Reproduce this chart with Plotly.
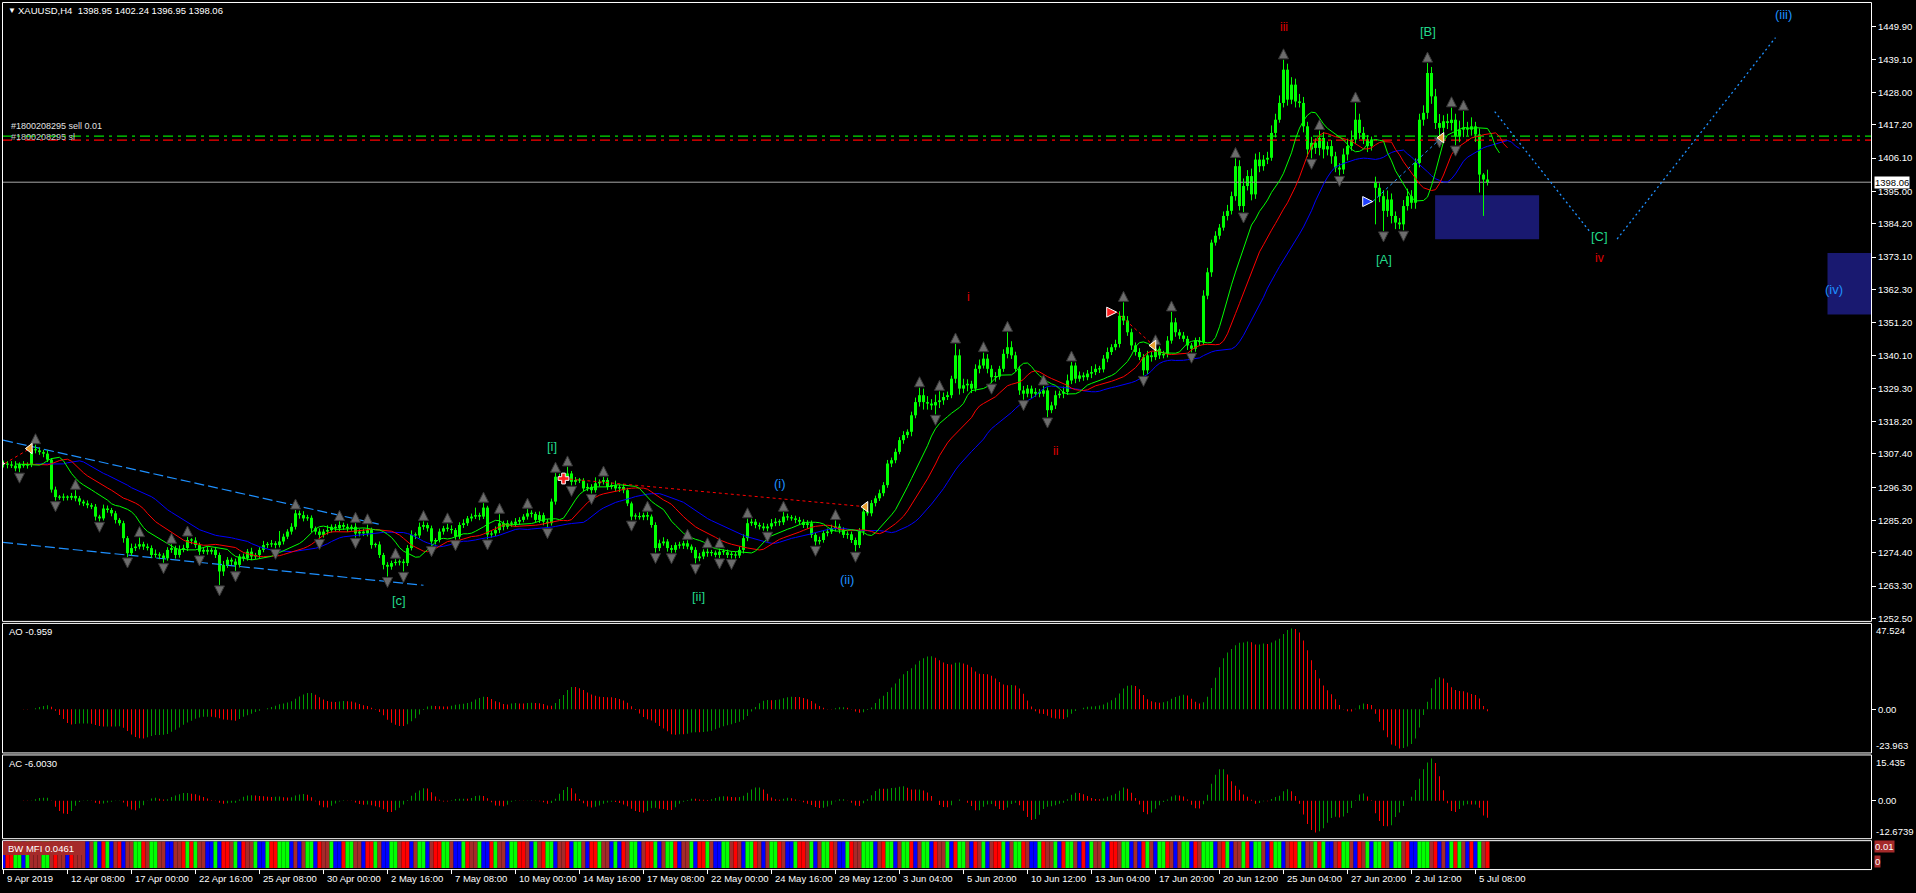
import pandas as pd
import plotly.graph_objects as go

W, H = 1916, 893

# ---------------- data ----------------
close = [
    1304.2, 1303.8, 1303.5, 1302.6, 1304.0, 1303.5, 1303.8, 1309.0, 1308.6, 1308.0,
    1307.5, 1305.5, 1295.5, 1293.0, 1292.8, 1293.0, 1292.8, 1293.4, 1292.6, 1291.5,
    1290.9, 1290.3, 1289.8, 1286.5, 1285.9, 1289.2, 1288.7, 1287.6, 1285.4, 1284.3,
    1279.3, 1274.3, 1276.0, 1276.5, 1277.3, 1276.5, 1276.0, 1273.7, 1273.9, 1273.5,
    1272.6, 1275.4, 1276.0, 1273.7, 1275.4, 1276.0, 1278.7, 1278.5, 1277.0, 1274.8,
    1275.4, 1274.8, 1275.4, 1273.7, 1268.2, 1270.4, 1272.1, 1271.5, 1270.4, 1273.2,
    1272.6, 1274.8, 1273.2, 1273.7, 1275.4, 1277.0, 1277.2, 1277.6, 1277.0, 1278.2,
    1279.8, 1281.5, 1283.1, 1287.6, 1287.0, 1285.9, 1286.1, 1282.6, 1281.5, 1280.4,
    1281.5, 1282.0, 1283.1, 1282.6, 1283.7, 1283.1, 1282.6, 1283.1, 1280.9, 1281.5,
    1280.9, 1282.0, 1277.0, 1277.2, 1273.7, 1270.4, 1269.8, 1271.0, 1271.2, 1271.5,
    1271.0, 1276.0, 1280.4, 1280.2, 1283.1, 1283.7, 1282.6, 1278.2, 1278.7, 1281.5,
    1282.6, 1282.4, 1282.0, 1279.8, 1283.7, 1284.3, 1285.9, 1286.5, 1287.0, 1286.5,
    1289.5, 1280.5, 1280.9, 1282.0, 1284.3, 1283.1, 1284.3, 1284.1, 1284.8, 1285.4,
    1286.5, 1287.6, 1287.4, 1285.4, 1287.0, 1284.8, 1284.3, 1291.5, 1299.8, 1299.2,
    1299.8, 1300.9, 1298.1, 1298.7, 1298.5, 1295.9, 1296.4, 1295.3, 1297.6, 1298.1,
    1298.7, 1296.4, 1297.0, 1295.9, 1296.4, 1295.3, 1290.9, 1286.5, 1286.7, 1286.3,
    1287.0, 1286.5, 1283.7, 1276.0, 1277.6, 1278.2, 1276.0, 1275.4, 1277.0, 1276.8,
    1277.6, 1276.5, 1275.4, 1272.6, 1273.2, 1274.8, 1274.3, 1274.5, 1273.7, 1274.8,
    1274.6, 1273.7, 1273.9, 1273.5, 1275.4, 1279.3, 1284.3, 1284.8, 1283.7, 1283.2,
    1282.6, 1283.2, 1284.3, 1284.8, 1284.6, 1286.5, 1286.2, 1285.9, 1285.4, 1284.8,
    1283.7, 1284.3, 1280.4, 1278.2, 1278.7, 1281.0, 1281.5, 1282.6, 1283.2, 1282.1,
    1280.4, 1280.6, 1278.7, 1277.0, 1281.5, 1288.2, 1287.6, 1291.0, 1292.6, 1294.3,
    1297.0, 1304.2, 1305.3, 1308.1, 1312.0, 1313.7, 1314.8, 1320.3, 1324.7, 1327.0,
    1324.7, 1324.2, 1323.6, 1324.7, 1325.3, 1326.4, 1327.0, 1332.5, 1340.3, 1329.2,
    1330.3, 1330.8, 1329.2, 1335.8, 1336.9, 1339.2, 1335.8, 1333.0, 1333.2, 1335.8,
    1340.8, 1343.0, 1340.3, 1335.8, 1328.6, 1327.5, 1329.2, 1327.5, 1328.1, 1327.5,
    1328.6, 1322.0, 1323.6, 1327.0, 1327.5, 1328.1, 1331.9, 1336.9, 1332.5, 1333.6,
    1333.0, 1334.2, 1334.7, 1335.8, 1335.6, 1339.2, 1341.4, 1343.0, 1344.1, 1353.5,
    1351.9, 1348.0, 1343.6, 1341.4, 1339.7, 1335.3, 1340.3, 1339.7, 1342.5, 1340.3,
    1340.8, 1345.2, 1351.3, 1348.0, 1346.9, 1345.8, 1343.6, 1342.5, 1345.2, 1344.7,
    1360.2, 1368.0, 1377.9, 1380.2, 1382.9, 1386.8, 1388.5, 1393.4, 1403.4, 1390.1,
    1396.8, 1400.1, 1394.0, 1405.6, 1403.4, 1405.6, 1406.2, 1414.5, 1418.9, 1424.5,
    1435.6, 1425.6, 1430.6, 1425.0, 1424.5, 1416.7, 1409.0, 1411.2, 1409.5, 1412.8,
    1409.0, 1410.1, 1406.7, 1402.9, 1402.3, 1407.3, 1410.1, 1412.3, 1418.9, 1414.5,
    1412.3, 1410.1, 1412.3, 1396.2, 1393.4, 1388.5, 1392.3, 1386.8, 1384.6, 1384.0,
    1390.1, 1393.4, 1391.2, 1404.5, 1418.9, 1421.2, 1434.5, 1426.7, 1417.8, 1416.2,
    1418.4, 1417.8, 1418.9, 1413.4, 1415.6, 1416.2, 1415.6, 1416.7, 1414.0, 1400.6,
    1398.95, 1398.06,
]
open_override = {0: 1303.9, 343: 1397.9, 371: 1398.95}

wick_up = [
    1.0, 0.8, 1.2, 1.5, 0.6, 1.0, 0.8, 1.3, 1.5, 1.0,
    0.8, 1.2, 0.5, 1.0, 0.7, 1.2, 0.6, 1.0, 1.9, 0.8,
    0.6, 1.0, 0.7, 0.9, 0.6, 1.3, 1.0, 0.7, 0.8, 0.6,
    0.8, 0.7, 1.5, 1.0, 2.2, 0.8, 1.0, 0.9, 1.6, 0.7,
    0.8, 0.9, 1.3, 0.8, 1.5, 1.1, 1.0, 0.6, 1.1, 0.8,
    0.9, 1.2, 0.7, 1.0, 0.8, 1.3, 0.9, 0.7, 1.0, 0.8,
    1.0, 0.9, 1.3, 0.7, 0.9, 1.4, 0.8, 1.1, 0.7, 3.5,
    1.0, 0.8, 1.2, 1.1, 0.9, 1.3, 1.0, 0.8, 0.6, 1.1,
    0.8, 1.6, 0.8, 0.9, 1.2, 0.8, 1.0, 0.7, 1.2, 0.8,
    1.0, 1.8, 0.8, 0.6, 1.0, 0.7, 0.9, 0.8, 1.1, 0.7,
    0.8, 1.0, 1.5, 0.8, 1.4, 1.2, 0.8, 0.9, 0.6, 1.0,
    0.8, 1.5, 1.2, 0.7, 0.9, 1.3, 0.8, 1.0, 2.5, 0.8,
    1.5, 0.6, 0.9, 1.2, 3.0, 0.8, 1.0, 0.8, 1.2, 0.9,
    0.8, 1.4, 1.0, 0.7, 1.2, 0.8, 0.9, 1.0, 1.2, 1.0,
    1.0, 2.2, 0.8, 1.0, 0.7, 0.8, 1.2, 0.9, 2.0, 0.8,
    1.0, 0.8, 0.9, 1.5, 0.7, 1.0, 0.8, 0.6, 0.9, 1.2,
    0.8, 1.0, 0.7, 0.9, 1.2, 1.4, 0.8, 1.0, 0.9, 1.1,
    0.8, 1.0, 0.7, 0.9, 1.2, 0.8, 1.0, 0.9, 0.7, 1.0,
    0.8, 0.9, 1.0, 0.8, 1.1, 1.3, 1.5, 1.0, 0.9, 0.8,
    1.2, 0.9, 1.4, 1.2, 0.8, 1.5, 1.0, 0.8, 0.9, 1.0,
    0.8, 1.0, 0.9, 0.7, 1.1, 0.8, 1.0, 1.2, 2.0, 0.9,
    0.8, 1.0, 0.9, 0.8, 1.2, 1.0, 1.5, 1.0, 0.9, 1.2,
    1.0, 1.2, 0.9, 1.1, 1.0, 1.3, 0.8, 1.2, 1.5, 2.5,
    2.2, 2.0, 1.5, 2.5, 3.0, 1.5, 1.2, 1.0, 3.8, 2.0,
    2.2, 1.5, 1.0, 1.5, 2.0, 2.0, 1.5, 1.2, 1.5, 1.0,
    1.5, 5.0, 2.0, 1.2, 1.0, 1.5, 1.2, 1.0, 1.3, 1.0,
    1.5, 1.0, 1.2, 1.5, 1.0, 1.8, 2.0, 1.2, 1.0, 1.3,
    1.0, 1.2, 2.0, 1.5, 1.0, 1.2, 1.5, 1.0, 1.4, 1.5,
    4.5, 1.5, 1.2, 1.0, 1.3, 1.0, 1.5, 1.2, 1.0, 0.8,
    1.0, 1.5, 3.5, 1.5, 1.0, 1.2, 1.0, 0.8, 1.0, 1.2,
    1.8, 1.5, 1.0, 1.5, 1.2, 1.5, 2.0, 1.5, 2.6, 2.0,
    2.5, 2.0, 2.5, 2.0, 2.5, 1.5, 2.0, 2.5, 2.0, 2.5,
    3.3, 2.0, 2.5, 2.0, 2.5, 2.0, 1.5, 2.0, 1.5, 2.5,
    2.0, 1.5, 2.0, 1.5, 1.5, 2.0, 2.5, 3.0, 5.6, 2.0,
    2.0, 1.5, 1.0, 2.0, 1.5, 2.0, 3.0, 2.0, 1.5, 1.5,
    2.0, 2.5, 2.0, 1.5, 2.0, 2.5, 3.3, 2.0, 2.5, 3.0,
    2.0, 2.5, 4.0, 2.0, 3.0, 5.6, 2.0, 3.0, 1.5, 2.0,
    0.5, 3.29,
]
wick_dn = [
    1.0, 1.2, 0.8, 1.0, 1.3, 0.7, 1.0, 0.8, 1.0, 0.9,
    1.2, 0.8, 1.0, 1.2, 0.7, 1.0, 0.9, 0.8, 1.0, 1.2,
    0.9, 1.0, 0.8, 1.3, 1.0, 0.7, 0.9, 1.0, 1.2, 0.8,
    1.5, 1.3, 0.8, 1.0, 0.9, 1.1, 0.8, 1.0, 0.9, 1.2,
    1.5, 0.8, 1.0, 1.2, 0.9, 0.8, 1.0, 1.2, 0.9, 1.1,
    0.8, 1.0, 0.9, 1.0, 4.5, 1.5, 1.0, 1.2, 2.0, 0.9,
    1.0, 0.8, 1.2, 0.9, 1.0, 0.8, 1.0, 0.9, 1.1, 0.8,
    1.0, 0.8, 1.0, 0.9, 1.2, 1.0, 0.8, 1.3, 1.0, 1.2,
    0.9, 1.0, 0.8, 1.1, 0.9, 1.0, 1.2, 0.8, 1.4, 1.0,
    0.9, 1.0, 1.2, 0.8, 1.0, 1.5, 3.3, 1.0, 0.8, 1.0,
    2.8, 1.0, 0.8, 1.2, 0.9, 1.0, 1.1, 1.4, 1.0, 0.8,
    1.0, 0.9, 1.2, 1.0, 0.8, 1.0, 0.9, 1.0, 0.8, 1.2,
    0.8, 1.5, 1.0, 0.9, 1.0, 1.2, 0.8, 1.0, 0.9, 1.0,
    0.8, 1.0, 1.2, 0.9, 1.0, 1.2, 1.5, 0.8, 1.0, 0.8,
    1.0, 0.9, 1.2, 1.0, 0.8, 1.0, 0.9, 1.1, 0.8, 1.0,
    0.9, 1.0, 0.8, 1.0, 1.2, 1.0, 0.9, 1.2, 1.0, 0.8,
    1.0, 1.2, 0.9, 1.5, 1.0, 0.8, 1.2, 1.0, 0.9, 1.0,
    1.1, 0.9, 1.0, 1.7, 1.0, 0.9, 1.2, 1.0, 0.8, 1.0,
    0.9, 1.0, 1.2, 1.0, 0.8, 1.2, 1.0, 0.9, 1.1, 1.0,
    0.8, 1.0, 0.9, 1.0, 1.2, 0.9, 1.0, 0.8, 1.1, 0.9,
    1.0, 1.2, 1.0, 1.3, 1.0, 0.9, 1.1, 0.8, 1.0, 1.2,
    1.0, 1.3, 1.0, 2.1, 1.0, 1.2, 0.8, 1.0, 1.1, 0.9,
    1.0, 0.9, 1.2, 1.0, 0.8, 1.2, 1.0, 1.5, 1.0, 1.5,
    2.5, 2.0, 1.5, 3.0, 2.0, 1.5, 1.0, 1.0, 1.5, 2.0,
    1.5, 2.0, 1.5, 1.0, 1.5, 1.0, 1.5, 2.0, 1.5, 1.0,
    1.0, 1.5, 1.2, 1.0, 1.5, 2.0, 1.2, 1.5, 1.0, 1.2,
    1.0, 2.3, 1.0, 1.2, 1.0, 1.5, 1.0, 1.2, 1.5, 1.0,
    1.2, 1.0, 1.5, 1.0, 1.2, 1.0, 1.2, 1.0, 1.0, 1.2,
    1.5, 1.2, 1.5, 1.2, 1.0, 1.7, 1.2, 1.5, 1.0, 1.2,
    1.0, 1.2, 1.0, 1.5, 1.2, 1.0, 1.5, 1.2, 1.0, 1.2,
    1.0, 1.2, 1.5, 1.0, 1.2, 1.0, 1.5, 1.2, 1.5, 1.5,
    2.0, 1.5, 2.0, 1.5, 2.0, 1.5, 1.5, 1.0, 1.5, 1.0,
    1.5, 2.0, 1.5, 2.0, 1.5, 2.0, 2.5, 3.0, 2.0, 2.5,
    3.0, 2.0, 2.5, 1.5, 2.0, 1.5, 2.0, 1.5, 1.5, 2.0,
    1.5, 2.0, 1.5, 12.2, 2.0, 6.7, 2.0, 2.5, 2.2, 1.6,
    2.0, 1.5, 2.0, 2.0, 1.5, 2.0, 2.0, 2.5, 2.0, 3.0,
    2.5, 2.0, 2.5, 3.0, 2.0, 2.5, 2.0, 2.0, 2.5, 6.0,
    12.15, 1.11,
]

# BW MFI bar colours (L lime, B blue, R red, N brown)
mfi_codes = (
    "BRRLLBLNNN" "LLNRNNBRNN" "NBNLBRLBNR" "BNNLLRNLLN" "NBBNNRLRLN" "NBBLBRRNLB" "RNNLBBLRRL" "LLBNB"
    "NLLBRNNLBB" "RLLNNBRRLN" "BBLLNRRBNL" "LBNRRLLNBB" "LRNNLBBRLN" "NBLLRRNBLN" "RLLBNNRBLL"
    "NBRRLNNBLB" "RNLLBNRRLB" "NLLRBNNLBR" "RLNBBLLNRN" "BLLRNBNLLR" "NBBLRRNLBN" "LLRNBBLRNN"
    "LLLBNRLLBN" "LLRBNLLBRN" "NLBRLLNBRN" "LBNRRLBNLL" "RNBBLRNNLB" "RLLNBRBLNN" "LBRRNLLBNB"
    "RLNBLLRNBN" "LLBRNLLLBN" "RLBNNLRBLL" "NBRLLBNRRL" "BNNLRLBBNR" "LLNBRNLBLL" "RNBLLNRBBL"
    "LLNRBNBLRL" "NBRBLNR"
)

time_labels = [
    "9 Apr 2019", "12 Apr 08:00", "17 Apr 00:00", "22 Apr 16:00", "25 Apr 08:00",
    "30 Apr 00:00", "2 May 16:00", "7 May 08:00", "10 May 00:00", "14 May 16:00",
    "17 May 08:00", "22 May 00:00", "24 May 16:00", "29 May 12:00", "3 Jun 04:00",
    "5 Jun 20:00", "10 Jun 12:00", "13 Jun 04:00", "17 Jun 20:00", "20 Jun 12:00",
    "25 Jun 04:00", "27 Jun 20:00", "2 Jul 12:00", "5 Jul 08:00",
]
bars_per_time_label = 16

price_ticks = [1449.90, 1439.10, 1428.00, 1417.20, 1406.10, 1395.00, 1384.20, 1373.10,
               1362.30, 1351.20, 1340.10, 1329.30, 1318.20, 1307.40, 1296.30, 1285.20,
               1274.40, 1263.30, 1252.50]
last_price = 1398.06
header_text = "XAUUSD,H4  1398.95 1402.24 1396.95 1398.06"

ao_range = (-23.963, 47.524)
ac_range = (-12.6739, 15.435)
ao_label, ac_label, mfi_label = "AO -0.959", "AC -6.0030", "BW MFI 0.0461"

# Elliott wave labels (text, bar, price, colour-key)
wave_text = ["[c]", "[i]", "[ii]", "(i)", "(ii)", "i", "ii", "iii", "[A]", "[B]", "[C]", "iv", "(iii)", "(iv)"]
wave_bar = [98.8, 137.2, 173.8, 194.0, 210.9, 241.2, 263.0, 320.2, 345.0, 356.0, 399.0, 399.0, 445.0, 457.5]
wave_price = [1258.5, 1309.8, 1259.9, 1297.6, 1265.4, 1359.7, 1308.3, 1449.9, 1372.4, 1448.5, 1380.0, 1372.9, 1453.9, 1362.3]
wave_kind = ["g", "g", "g", "b", "b", "r", "r", "r", "g", "g", "g", "r", "b", "b"]

# channel lines (bar, price)
chan_up_bar, chan_up_price = [-0.1, 93.8], [1312.0, 1284.0]
chan_dn_bar, chan_dn_price = [-0.1, 105.0], [1277.9, 1263.6]
# projection path (dotted)
proj1_bar, proj1_price = [372.8, 396.5], [1421.6, 1381.7]
proj2_bar, proj2_price = [403.4, 443.0], [1379.1, 1446.3]
# target boxes (bar0, bar1, price0, price1)
boxes = [(357.9, 383.9, 1379.0, 1393.7), (456.0, 470.0, 1353.9, 1374.4)]
# order lines
order_green, order_red = 1413.43, 1412.07
order_texts = ["#1800208295 sell 0.01", "#1800208295 sl"]
# trade arrows (bar, price)
entry_red_bar, entry_red_price = [0.3, 278.3], [1304.2, 1354.7]
entry_blue_bar, entry_blue_price = [342.3], [1391.6]
exit_bar, exit_price = [6.6, 215.5, 287.5, 359.5], [1309.2, 1289.8, 1343.6, 1412.9]
cross_bar, cross_price = [140.0], [1299.2]
trade_links = [((0.3, 1304.2), (6.6, 1309.2), "red"), ((140.0, 1299.2), (215.5, 1289.8), "red"),
               ((278.3, 1354.7), (287.5, 1343.6), "red"), ((342.3, 1391.6), (359.5, 1412.9), "#1E90FF")]

# ---------------- derived series ----------------
N = len(close)
idx = list(range(N))
opens = [open_override.get(i, close[i - 1] if i > 0 else close[0]) for i in range(N)]
highs = [max(o, c) + u for o, c, u in zip(opens, close, wick_up)]
lows = [min(o, c) - d for o, c, d in zip(opens, close, wick_dn)]

med = pd.Series([(h + l) / 2 for h, l in zip(highs, lows)])
jaw = med.ewm(alpha=1 / 13, adjust=False).mean()
teeth = med.ewm(alpha=1 / 8, adjust=False).mean()
lips = med.ewm(alpha=1 / 5, adjust=False).mean()

ao = med.rolling(5, min_periods=1).mean() - med.rolling(34, min_periods=1).mean()
ac = ao - ao.rolling(5, min_periods=1).mean()


def up_down_colors(s, up, dn):
    out = []
    for i in range(len(s)):
        out.append(up if i == 0 or s.iloc[i] >= s.iloc[i - 1] else dn)
    return out


# ---------------- geometry helpers (pixel layout) ----------------
PXU = 3.0076          # pixels per dollar in main panel
REF_P, REF_Y = 1449.9, 26.9


def price_at(ypx):
    return REF_P - (ypx - REF_Y) / PXU


def fx(px):
    return px / W


def fy(py):
    return 1 - py / H


X0, X1 = 2, 1871
XR = (-0.375, -0.375 + (X1 - X0) / 4.0)
MAIN = (3, 623)
AOP = (626, 755)
ACP = (758, 841)
MFP = (844, 871)

FONT = "Liberation Sans, Arial, sans-serif"
GREEN_LBL, BLUE_LBL, RED_LBL = "#22D98A", "#1E90FF", "#E00000"
kind_col = {"g": GREEN_LBL, "b": BLUE_LBL, "r": RED_LBL}

fig = go.Figure()

# target boxes (below everything)
shapes = []
for b0, b1, p0, p1 in boxes:
    shapes.append(dict(type="rect", xref="x", yref="y", x0=b0, x1=min(b1, XR[1]), y0=p0, y1=p1,
                       fillcolor="#191970", line=dict(width=0), layer="below"))

# channel lines
for bx, py in [(chan_up_bar, chan_up_price), (chan_dn_bar, chan_dn_price)]:
    fig.add_trace(go.Scatter(x=bx, y=py, mode="lines", line=dict(color="#1E90FF", width=1.2, dash="10px,4px"),
                             hoverinfo="skip"))

# order lines and last price line
fig.add_trace(go.Scatter(x=list(XR), y=[order_green] * 2, mode="lines",
                         line=dict(color="#00E000", width=1.2, dash="10px,5px,3px,5px"), hoverinfo="skip"))
fig.add_trace(go.Scatter(x=list(XR), y=[order_red] * 2, mode="lines",
                         line=dict(color="#FF0000", width=1.2, dash="10px,5px,3px,5px"), hoverinfo="skip"))
fig.add_trace(go.Scatter(x=list(XR), y=[last_price] * 2, mode="lines",
                         line=dict(color="#A8A8A8", width=1), hoverinfo="skip"))

# wicks
wx, wy = [], []
for i in idx:
    wx += [i, i, None]
    wy += [lows[i], highs[i], None]
fig.add_trace(go.Scatter(x=wx, y=wy, mode="lines", line=dict(color="#00FF00", width=1), hoverinfo="skip"))

# bodies (outline + inner fill)
one_px = 1.0 / PXU
base = [min(o, c) for o, c in zip(opens, close)]
hgt = [max(abs(c - o), one_px * 1.2) for o, c in zip(opens, close)]
fig.add_trace(go.Bar(x=idx, y=hgt, base=base, width=0.75, marker=dict(color="#00FF00", line=dict(width=0)),
                     hoverinfo="skip"))
ix, iy, ib, ic = [], [], [], []
for i in idx:
    h_in = hgt[i] - 2 * one_px
    if h_in > 0.05:
        ix.append(i)
        iy.append(h_in)
        ib.append(base[i] + one_px)
        ic.append("#000000" if close[i] >= opens[i] else "#FFFFFF")
fig.add_trace(go.Bar(x=ix, y=iy, base=ib, width=0.25, marker=dict(color=ic, line=dict(width=0)),
                     hoverinfo="skip"))

# alligator
fig.add_trace(go.Scatter(x=[i + 8 for i in idx], y=jaw, mode="lines", line=dict(color="#0000FF", width=1),
                         hoverinfo="skip"))
fig.add_trace(go.Scatter(x=[i + 5 for i in idx], y=teeth, mode="lines", line=dict(color="#FF0000", width=1),
                         hoverinfo="skip"))
fig.add_trace(go.Scatter(x=[i + 3 for i in idx], y=lips, mode="lines", line=dict(color="#00FF00", width=1),
                         hoverinfo="skip"))

# fractals
fu_x, fu_y, fd_x, fd_y = [], [], [], []
for i in range(2, N - 2):
    if highs[i] > highs[i - 1] and highs[i] > highs[i - 2] and highs[i] >= highs[i + 1] and highs[i] >= highs[i + 2]:
        fu_x.append(i)
        fu_y.append(highs[i] + 11 / PXU)
    if lows[i] < lows[i - 1] and lows[i] < lows[i - 2] and lows[i] <= lows[i + 1] and lows[i] <= lows[i + 2]:
        fd_x.append(i)
        fd_y.append(lows[i] - 11 / PXU)
fig.add_trace(go.Scatter(x=fu_x, y=fu_y, mode="markers", hoverinfo="skip",
                         marker=dict(symbol="arrow-up", size=10, color="#6c6c6c", line=dict(color="#383838", width=1))))
fig.add_trace(go.Scatter(x=fd_x, y=fd_y, mode="markers", hoverinfo="skip",
                         marker=dict(symbol="arrow-down", size=10, color="#6c6c6c", line=dict(color="#383838", width=1))))

# projections
for bx, py in [(proj1_bar, proj1_price), (proj2_bar, proj2_price)]:
    fig.add_trace(go.Scatter(x=bx, y=py, mode="lines", line=dict(color="#1E90FF", width=1.3, dash="2px,3px"),
                             hoverinfo="skip"))

# trades
for (a, b, col) in trade_links:
    fig.add_trace(go.Scatter(x=[a[0], b[0]], y=[a[1], b[1]], mode="lines",
                             line=dict(color=col, width=1, dash="3px,3px"), hoverinfo="skip"))
fig.add_trace(go.Scatter(x=entry_red_bar, y=entry_red_price, mode="markers", hoverinfo="skip",
                         marker=dict(symbol="arrow-right", size=10, color="#FF2020", line=dict(color="white", width=1))))
fig.add_trace(go.Scatter(x=entry_blue_bar, y=entry_blue_price, mode="markers", hoverinfo="skip",
                         marker=dict(symbol="arrow-right", size=10, color="#2040FF", line=dict(color="white", width=1))))
fig.add_trace(go.Scatter(x=exit_bar, y=exit_price, mode="markers", hoverinfo="skip",
                         marker=dict(symbol="triangle-left", size=9, color="#E8A030", line=dict(color="white", width=1))))
fig.add_trace(go.Scatter(x=cross_bar, y=cross_price, mode="markers", hoverinfo="skip",
                         marker=dict(symbol="cross", size=9, color="#FF2020", line=dict(color="white", width=1))))

# AO / AC
fig.add_trace(go.Bar(x=idx, y=ao, width=0.25, yaxis="y2", hoverinfo="skip",
                     marker=dict(color=up_down_colors(ao, "#009900", "#FF0000"), line=dict(width=0))))
fig.add_trace(go.Bar(x=idx, y=ac, width=0.25, yaxis="y3", hoverinfo="skip",
                     marker=dict(color=up_down_colors(ac, "#009900", "#FF0000"), line=dict(width=0))))

# BW MFI
code_col = {"L": "#00FF00", "B": "#0000FF", "R": "#FF0000", "N": "#A52A2A"}
mcols = [code_col[c] for c in mfi_codes[:N]]
fig.add_trace(go.Bar(x=idx[:len(mcols)], y=[1] * len(mcols), width=1.0, yaxis="y4", hoverinfo="skip",
                     marker=dict(color=mcols, line=dict(width=0))))

# ---------------- frame, texts ----------------
for (t, b) in [(2, 623), (625, 755), (757, 841), (843, 872)]:
    shapes.append(dict(type="rect", xref="paper", yref="paper", x0=fx(X0 + 0.5), x1=fx(X1 + 0.5),
                       y0=fy(b + 0.5), y1=fy(t + 0.5), line=dict(color="white", width=1)))
# time axis ticks
for k in range(len(time_labels)):
    shapes.append(dict(type="line", xref="x", yref="paper", x0=k * bars_per_time_label, x1=k * bars_per_time_label,
                       y0=fy(872), y1=fy(877), line=dict(color="white", width=1)))
# MFI label background
shapes.append(dict(type="rect", xref="paper", yref="paper", x0=fx(3), x1=fx(85), y0=fy(858), y1=fy(844),
                   fillcolor="#A52A2A", line=dict(width=0)))

ann = []


def text(x, y, s, size=9.5, color="white", xanchor="left", xref="paper", yref="paper", **kw):
    ann.append(dict(x=x, y=y, xref=xref, yref=yref, text=s, showarrow=False, xanchor=xanchor, yanchor="middle",
                    font=dict(family=FONT, size=size, color=color), **kw))


text(fx(6), fy(11), "▼", size=8)
text(fx(16), fy(11), header_text)
text(fx(9), fy(126), order_texts[0], size=9, color="#E0E0E0")
text(fx(9), fy(137), order_texts[1], size=9, color="#C8C8C8")
text(fx(7), fy(634), ao_label)
text(fx(7), fy(766), ac_label)
text(fx(6), fy(851), mfi_label)

for s, b, p, k in zip(wave_text, wave_bar, wave_price, wave_kind):
    text(b, p, s, size=12 if k == "r" else 13, color=kind_col[k], xanchor="center", xref="x", yref="y")

for k, s in enumerate(time_labels):
    text(k * bars_per_time_label, fy(881), s, xref="x", xshift=1)

text(fx(1874), fy(633), f"{ao_range[1]:.3f}")
text(fx(1874), fy(748), f"{ao_range[0]:.3f}")
text(fx(1874), fy(765), f"{ac_range[1]:.3f}")
text(fx(1874), fy(834), f"{ac_range[0]:.4f}")
text(fx(1874), fy(849), "0.01", bgcolor="#A52A2A", borderpad=0)
text(fx(1874), fy(864), "0", bgcolor="#A52A2A", borderpad=0)
text(fx(1874), last_price, f"{last_price:.2f}", color="black", bgcolor="white", borderpad=0, yref="y")

axis_common = dict(showgrid=False, zeroline=False, showline=False, fixedrange=True)
fig.update_layout(
    width=W, height=H, margin=dict(l=0, r=0, t=0, b=0),
    paper_bgcolor="black", plot_bgcolor="black", showlegend=False, barmode="overlay", hovermode=False,
    xaxis=dict(domain=[fx(X0), fx(X1)], range=list(XR), showticklabels=False, ticks="", **axis_common),
    yaxis=dict(domain=[fy(MAIN[1]), fy(MAIN[0])], range=[price_at(MAIN[1]), price_at(MAIN[0])], side="right",
               tickvals=price_ticks, ticktext=[f"{v:.2f}" for v in price_ticks], ticks="outside", ticklen=4,
               tickcolor="white", tickfont=dict(family=FONT, size=9.5, color="white"), **axis_common),
    yaxis2=dict(domain=[fy(AOP[1]), fy(AOP[0])], range=list(ao_range), side="right", anchor="x",
                tickvals=[0], ticktext=["0.00"], ticks="outside", ticklen=4, tickcolor="white",
                tickfont=dict(family=FONT, size=9.5, color="white"), **axis_common),
    yaxis3=dict(domain=[fy(ACP[1]), fy(ACP[0])], range=list(ac_range), side="right", anchor="x",
                tickvals=[0], ticktext=["0.00"], ticks="outside", ticklen=4, tickcolor="white",
                tickfont=dict(family=FONT, size=9.5, color="white"), **axis_common),
    yaxis4=dict(domain=[fy(MFP[1]), fy(MFP[0])], range=[0, 1], side="right", anchor="x",
                showticklabels=False, ticks="", **axis_common),
    shapes=shapes, annotations=ann,
)

fig.write_html("out.html", include_plotlyjs=True, config={"displayModeBar": False, "staticPlot": True},
               post_script="document.body.style.margin='0';document.body.style.overflow='hidden';")
